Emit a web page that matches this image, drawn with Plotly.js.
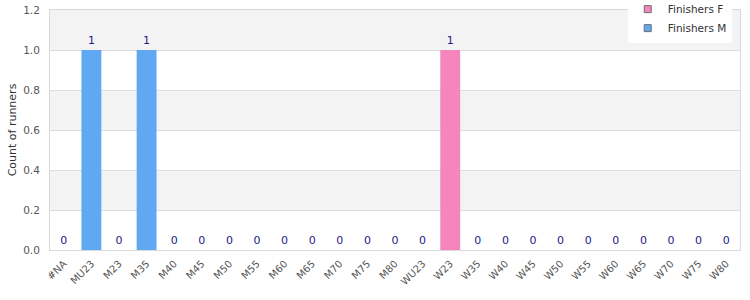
<!DOCTYPE html>
<html>
<head>
<meta charset="utf-8">
<script src="https://cdn.plot.ly/plotly-3.0.1.min.js"></script>
<style>html,body{margin:0;padding:0;background:#fff}#chart{width:750px;height:300px}</style>
</head>
<body>
<div id="chart"></div>
<script>
const categories = ["#NA","MU23","M23","M35","M40","M45","M50","M55","M60","M65","M70","M75","M80","WU23","W23","W35","W40","W45","W50","W55","W60","W65","W70","W75","W80"];
const finishersM = [0,1,0,1,0,0,0,0,0,0,0,0,0,null,null,null,null,null,null,null,null,null,null,null,null];
const finishersF = [null,null,null,null,null,null,null,null,null,null,null,null,null,0,1,0,0,0,0,0,0,0,0,0,0];
const yTicks = [0,0.2,0.4,0.6,0.8,1.0,1.2];
const seriesNames = ["Finishers F","Finishers M"];
const seriesColors = ["#f485bd","#60a8f2"];

const font = "DejaVu Sans, sans-serif";
const labelFont = {family: font, size: 11, color: "#1a1a8c"};

const seriesData = [finishersF, finishersM];
const traces = [];
seriesData.forEach((vals, i) => {
  traces.push({type:"bar", name:seriesNames[i], x:categories, y:vals, showlegend:false,
    marker:{color:seriesColors[i]}, text:vals.map(v=>v===null?"":String(v)),
    textposition:"outside", textfont:labelFont, cliponaxis:false, hoverinfo:"none"});
});
seriesData.forEach((vals, i) => {
  traces.push({type:"scatter", mode:"markers", name:seriesNames[i], x:[categories[0]], y:[null],
    marker:{symbol:"square", size:7, color:seriesColors[i], line:{color:"#6e6e6e", width:1}},
    hoverinfo:"none", showlegend:true});
});

const bands = [];
for (let i = 1; i < yTicks.length; i += 2) {
  bands.push({type:"rect", xref:"paper", yref:"y", x0:0, x1:1, y0:yTicks[i], y1:yTicks[i+1],
    fillcolor:"#f3f3f3", line:{width:0}, layer:"below"});
}

const layout = {
  width:750, height:300,
  margin:{l:50, r:10, t:10, b:50, autoexpand:false},
  paper_bgcolor:"#fff", plot_bgcolor:"#fff",
  barmode:"overlay", bargap:0.28,
  font:{family:font, size:11, color:"#444"},
  showlegend:true,
  legend:{x:0.988, xanchor:"right", y:1.064, yanchor:"top", bgcolor:"#fff",
    font:{family:font, size:10.5, color:"#333"}, traceorder:"normal", itemwidth:30,
    tracegroupgap:0, itemclick:false},
  xaxis:{type:"category", range:[-0.5, categories.length - 0.5], tickangle:-45,
    tickfont:{family:font, size:10, color:"#555"},
    showgrid:false, showline:true, linecolor:"#d9d9d9", mirror:true,
    ticks:"outside", ticklen:3, tickcolor:"rgba(0,0,0,0)", automargin:false},
  yaxis:{range:[0,1.2], tickvals:yTicks, ticktext:yTicks.map(v=>v.toFixed(1)),
    showgrid:true, gridcolor:"#dddddd", zeroline:false, showline:true, linecolor:"#d9d9d9", mirror:true,
    ticks:"outside", ticklen:7, tickcolor:"rgba(0,0,0,0)",
    tickfont:{family:font, size:10.5, color:"#555"},
    title:{text:"Count of runners", font:{family:font, size:11, color:"#333"}, standoff:4}, automargin:false},
  shapes:bands
};

Plotly.newPlot("chart", traces, layout, {displayModeBar:false, staticPlot:true});
</script>
</body>
</html>
